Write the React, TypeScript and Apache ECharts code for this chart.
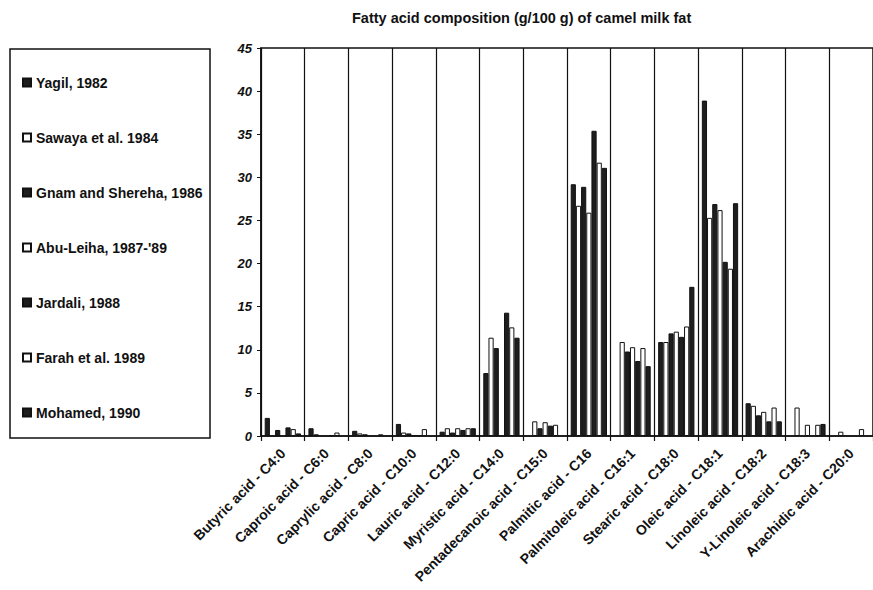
import React, { useEffect, useRef } from "react";
import * as echarts from "echarts";

const categories = [
  "Butyric acid - C4:0",
  "Caproic acid - C6:0",
  "Caprylic acid - C8:0",
  "Capric acid - C10:0",
  "Lauric acid - C12:0",
  "Myristic acid - C14:0",
  "Pentadecanoic acid - C15:0",
  "Palmitic acid - C16",
  "Palmitoleic acid - C16:1",
  "Stearic acid - C18:0",
  "Oleic acid - C18:1",
  "Linoleic acid - C18:2",
  "Y-Linoleic acid - C18:3",
  "Arachidic acid - C20:0",
];

const yagil1982 = [2.1, 0.9, 0.6, 1.4, 0.5, 7.3, null, 29.2, null, 10.9, 38.9, 3.8, null, null];
const sawaya1984 = [null, 0.2, 0.3, 0.4, 0.9, 11.4, 1.7, 26.7, 10.9, 10.9, 25.3, 3.5, 3.3, 0.5];
const gnamShereha1986 = [0.7, null, 0.2, 0.3, 0.4, 10.2, 0.9, 28.9, 9.8, 11.9, 26.9, 2.4, null, null];
const abuLeiha1987 = [null, null, null, 0.1, 0.9, null, 1.6, 25.9, 10.3, 12.1, 26.2, 2.8, 1.3, null];
const jardali1988 = [1.0, 0.1, null, 0.1, 0.7, 14.3, 1.2, 35.4, 8.7, 11.5, 20.2, 1.7, null, null];
const farah1989 = [0.8, 0.4, 0.2, 0.8, 0.9, 12.6, 1.3, 31.7, 10.2, 12.7, 19.4, 3.3, 1.3, 0.8];
const mohamed1990 = [0.3, null, null, null, 0.9, 11.4, null, 31.1, 8.1, 17.3, 27.0, 1.7, 1.4, null];

const seriesNames = [
  "Yagil, 1982",
  "Sawaya et al. 1984",
  "Gnam and Shereha, 1986",
  "Abu-Leiha, 1987-'89",
  "Jardali, 1988",
  "Farah et al. 1989",
  "Mohamed, 1990",
];
const seriesData = [yagil1982, sawaya1984, gnamShereha1986, abuLeiha1987, jardali1988, farah1989, mohamed1990];
const seriesFill = ["#1e1e1e", "#ffffff", "#1e1e1e", "#ffffff", "#1e1e1e", "#ffffff", "#1e1e1e"];

const yTicks = { min: 0, max: 45, interval: 5 };
const titleText = "Fatty acid composition (g/100 g) of camel milk fat";

export default function App() {
  const ref = useRef<HTMLDivElement>(null);
  useEffect(() => {
    if (!ref.current) return;
    const chart = echarts.init(ref.current, null, { renderer: "svg" });
    const font = "'Liberation Sans', Arial, sans-serif";
    chart.setOption({
      animation: false,
      backgroundColor: "#ffffff",
      title: {
        text: titleText,
        left: 347,
        top: 5,
        textStyle: { fontFamily: font, fontSize: 14.5, fontWeight: "bold", color: "#111" },
      },
      legend: {
        orient: "vertical",
        left: 17,
        top: 70,
        itemWidth: 8,
        itemHeight: 8,
        itemGap: 40,
        icon: "rect",
        data: seriesNames,
        textStyle: { fontFamily: font, fontSize: 14, fontWeight: "bold", color: "#111", lineHeight: 15 },
      },
      graphic: [
        {
          type: "rect",
          shape: { x: 10, y: 49, width: 200, height: 389 },
          style: { fill: "none", stroke: "#111", lineWidth: 1.5 },
        },
      ],
      grid: { left: 261, top: 48, width: 620, height: 388, show: true, borderColor: "#111", borderWidth: 1.5, backgroundColor: "transparent" },
      xAxis: {
        type: "category",
        data: categories,
        axisLine: { lineStyle: { color: "#111", width: 1.5 } },
        axisTick: { show: true, length: 5, lineStyle: { color: "#111", width: 1.2 } },
        splitLine: { show: true, interval: 0, lineStyle: { color: "#111", width: 1.2 } },
        axisLabel: {
          interval: 0,
          rotate: 45,
          margin: 15,
          fontFamily: font,
          fontSize: 14,
          fontWeight: "bold",
          color: "#111",
        },
      },
      yAxis: {
        type: "value",
        min: yTicks.min,
        max: yTicks.max,
        interval: yTicks.interval,
        axisLine: { show: true, lineStyle: { color: "#111", width: 1.5 } },
        axisTick: { show: true, length: 4, lineStyle: { color: "#111" } },
        splitLine: { show: false },
        axisLabel: {
          margin: 9,
          fontFamily: font,
          fontSize: 13,
          fontWeight: "bold",
          fontStyle: "italic",
          color: "#111",
        },
      },
      series: seriesNames.map((name, i) => ({
        name,
        type: "bar",
        data: seriesData[i],
        barGap: "0%",
        barCategoryGap: "17%",
        itemStyle: { color: seriesFill[i], borderColor: "#111", borderWidth: 1 },
      })),
    });
    return () => chart.dispose();
  }, []);
  return <div ref={ref} style={{ position: "absolute", left: 0, top: 0, width: 873, height: 590 }} />;
}
